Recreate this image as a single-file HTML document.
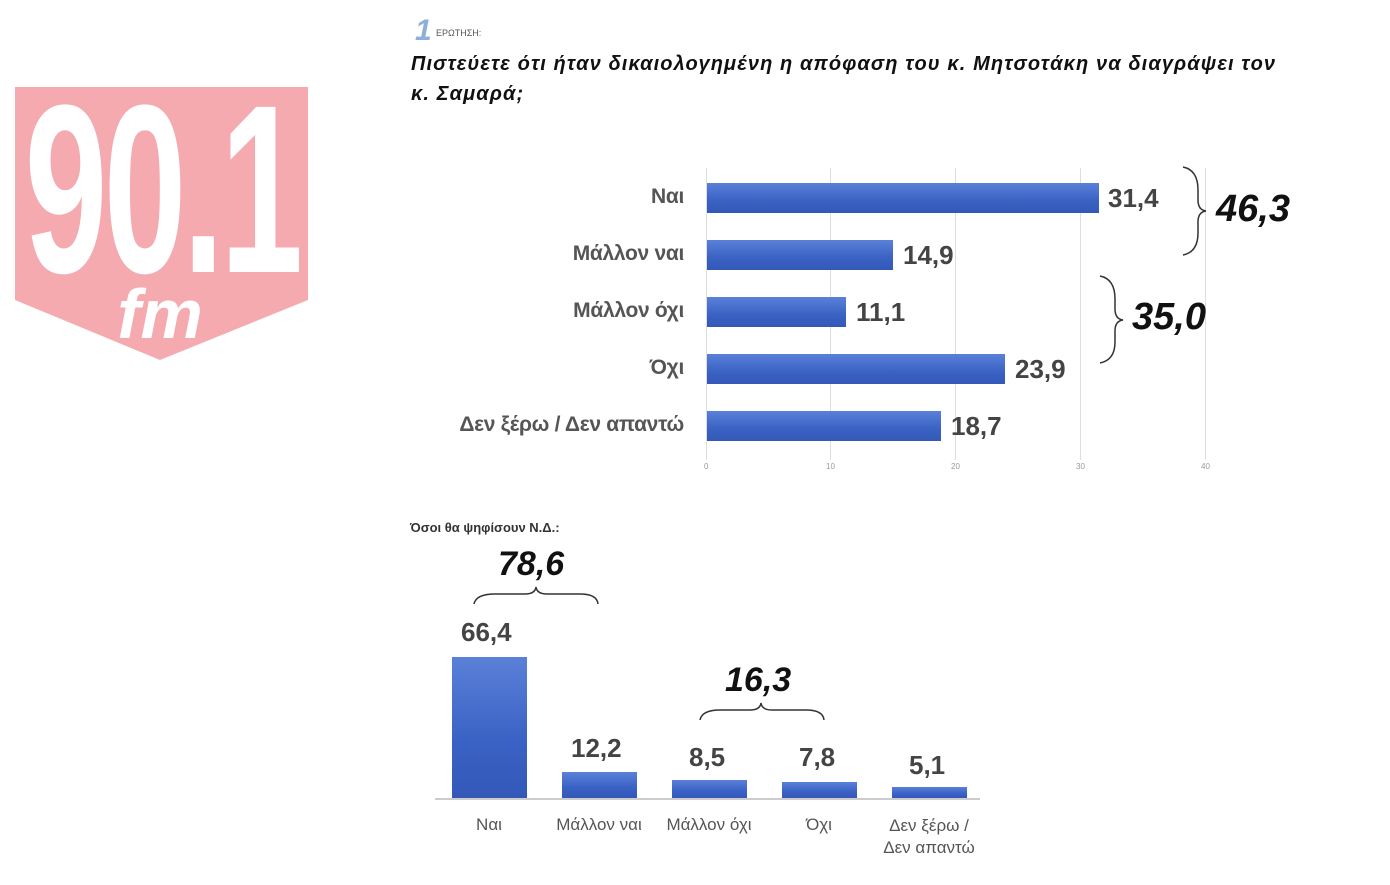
<!DOCTYPE html>
<html><head><meta charset="utf-8"><style>
body{margin:0;width:1390px;height:885px;background:#fff;position:relative;overflow:hidden;font-family:"Liberation Sans","DejaVu Sans",sans-serif}
.a{position:absolute;white-space:nowrap}
.lab{font-size:21px;color:#555;text-align:right;width:300px;font-weight:bold;letter-spacing:-0.3px}
.val{font-size:26px;color:#444;font-weight:bold}
.big{font-size:38px;font-weight:bold;font-style:italic;color:#111}
.bar{position:absolute;background:linear-gradient(#5a80d8,#3a62c4 60%,#3358b8);}
.g{position:absolute;width:1px;background:#ddd;top:168px;height:292px}
.t{position:absolute;top:462px;font-size:8px;color:#999}
.bl{font-size:17px;color:#555;text-align:center;width:110px}
</style></head><body>
<svg class="a" style="left:0;top:0" width="320" height="370">
<polygon points="15,87 308,87 308,300 160,360 15,300" fill="#f5aab0"/>
<g transform="translate(162,0) scale(0.62,1)">
<text x="0" y="272" text-anchor="middle" font-family="Liberation Sans" font-weight="bold" font-size="240" fill="#fff" letter-spacing="-6">90.1</text>
</g>
<text x="160" y="338" text-anchor="middle" font-family="Liberation Sans" font-weight="bold" font-style="italic" font-size="70" fill="#fff">fm</text>
</svg>
<div class="a" style="left:415px;top:14px;font-size:30px;font-weight:bold;font-style:italic;color:#8eb0d8">1</div>
<div class="a" style="left:436px;top:28px;font-size:9px;color:#555">ΕΡΩΤΗΣΗ:</div>
<div class="a" style="left:411px;top:49px;font-size:20px;letter-spacing:1.1px;font-weight:bold;font-style:italic;color:#111;line-height:30px">Πιστεύετε ότι ήταν δικαιολογημένη η απόφαση του κ. Μητσοτάκη να διαγράψει τον<br>κ. Σαμαρά;</div>

<div class="g" style="left:706px"></div><div class="g" style="left:830px"></div><div class="g" style="left:955px"></div><div class="g" style="left:1080px"></div><div class="g" style="left:1205px"></div>
<div class="t" style="left:704px">0</div><div class="t" style="left:826px">10</div><div class="t" style="left:951px">20</div><div class="t" style="left:1076px">30</div><div class="t" style="left:1201px">40</div>

<div class="a lab" style="left:384px;top:185px">Ναι</div>
<div class="a lab" style="left:384px;top:242px">Μάλλον ναι</div>
<div class="a lab" style="left:384px;top:299px">Μάλλον όχι</div>
<div class="a lab" style="left:384px;top:356px">Όχι</div>
<div class="a lab" style="left:384px;top:413px">Δεν ξέρω / Δεν απαντώ</div>

<div class="bar" style="left:707px;top:183px;width:392px;height:30px"></div>
<div class="bar" style="left:707px;top:240px;width:186px;height:30px"></div>
<div class="bar" style="left:707px;top:297px;width:139px;height:30px"></div>
<div class="bar" style="left:707px;top:354px;width:298px;height:30px"></div>
<div class="bar" style="left:707px;top:411px;width:234px;height:30px"></div>
<div class="a val" style="left:1108px;top:183px">31,4</div>
<div class="a val" style="left:903px;top:240px">14,9</div>
<div class="a val" style="left:856px;top:297px">11,1</div>
<div class="a val" style="left:1015px;top:354px">23,9</div>
<div class="a val" style="left:951px;top:411px">18,7</div>

<svg class="a" style="left:0;top:0" width="1390" height="885" fill="none" stroke="#333" stroke-width="1.5">
<path d="M1183,167 Q1198,170 1198,190 L1198,200 Q1198,210 1206,211 Q1198,212 1198,222 L1198,233 Q1198,252 1183,255"/>
<path d="M1100,276 Q1115,279 1115,299 L1115,309 Q1115,319 1123,320 Q1115,321 1115,331 L1115,342 Q1115,360 1100,363"/>
<path d="M474,604 Q476,594 495,594 L525,594 Q535,594 536,587 Q537,594 547,594 L580,594 Q597,594 598,604"/>
<path d="M700,720 Q702,710 720,710 L750,710 Q760,710 761,703 Q762,710 772,710 L806,710 Q823,710 824,720"/>
<line x1="435" y1="799" x2="980" y2="799" stroke="#ccc" stroke-width="2"/>
</svg>
<div class="a big" style="left:1216px;top:188px">46,3</div>
<div class="a big" style="left:1132px;top:296px">35,0</div>

<div class="a" style="left:410px;top:520px;font-size:13px;font-weight:bold;color:#333">Όσοι θα ψηφίσουν Ν.Δ.:</div>
<div class="a big" style="left:498px;top:545px;font-size:34px">78,6</div>
<div class="a big" style="left:725px;top:661px;font-size:34px">16,3</div>

<div class="bar" style="left:452px;top:657px;width:75px;height:141px"></div>
<div class="bar" style="left:562px;top:772px;width:75px;height:26px"></div>
<div class="bar" style="left:672px;top:780px;width:75px;height:18px"></div>
<div class="bar" style="left:782px;top:782px;width:75px;height:16px"></div>
<div class="bar" style="left:892px;top:787px;width:75px;height:11px"></div>
<div class="a val" style="left:461px;top:617px">66,4</div>
<div class="a val" style="left:571px;top:733px">12,2</div>
<div class="a val" style="left:689px;top:742px">8,5</div>
<div class="a val" style="left:799px;top:742px">7,8</div>
<div class="a val" style="left:909px;top:750px">5,1</div>

<div class="a bl" style="left:434px;top:815px">Ναι</div>
<div class="a bl" style="left:544px;top:815px">Μάλλον ναι</div>
<div class="a bl" style="left:654px;top:815px">Μάλλον όχι</div>
<div class="a bl" style="left:764px;top:815px">Όχι</div>
<div class="a bl" style="left:874px;top:815px;line-height:22px">Δεν ξέρω /<br>Δεν απαντώ</div>
</body></html>
